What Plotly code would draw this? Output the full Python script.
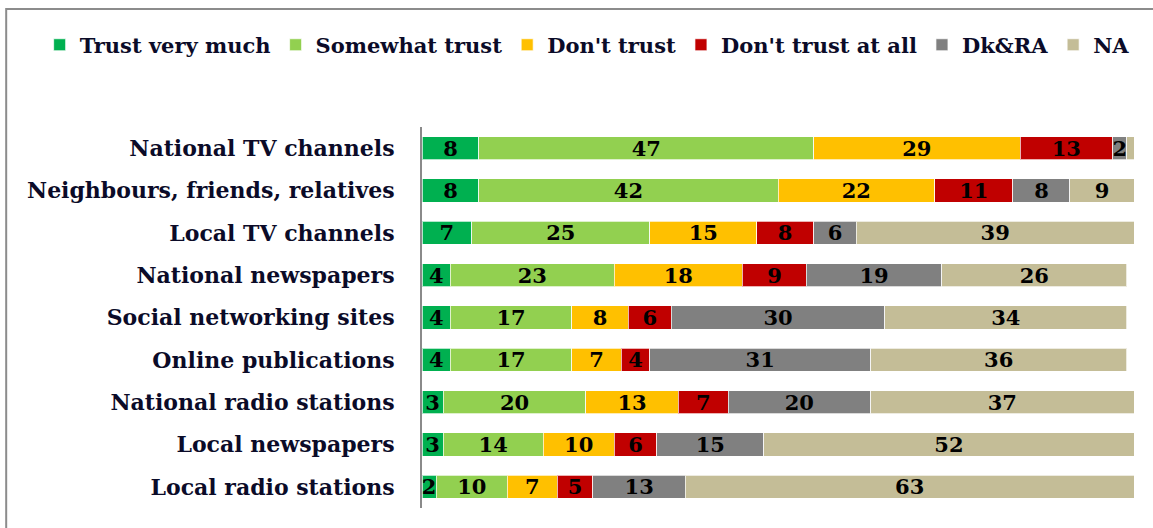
import plotly.graph_objects as go

categories = [
    "National TV channels",
    "Neighbours, friends, relatives",
    "Local TV channels",
    "National newspapers",
    "Social networking sites",
    "Online publications",
    "National radio stations",
    "Local newspapers",
    "Local radio stations",
]

series_names = ["Trust very much", "Somewhat trust", "Don't trust",
                "Don't trust at all", "Dk&RA", "NA"]

trust_very_much = [8, 8, 7, 4, 4, 4, 3, 3, 2]
somewhat_trust = [47, 42, 25, 23, 17, 17, 20, 14, 10]
dont_trust = [29, 22, 15, 18, 8, 7, 13, 10, 7]
dont_trust_at_all = [13, 11, 8, 9, 6, 4, 7, 6, 5]
dk_ra = [2, 8, 6, 19, 30, 31, 20, 15, 13]
na = [1, 9, 39, 26, 34, 36, 37, 52, 63]

colors = ["#00b050", "#92d050", "#ffc000", "#c00000", "#808080", "#c4bd97"]

FONT = "DejaVu Serif"
TEXT_COLOR = "#0b0b28"

fig = go.Figure()
for name, vals, col in zip(series_names,
                           [trust_very_much, somewhat_trust, dont_trust,
                            dont_trust_at_all, dk_ra, na], colors):
    # segments too thin to hold a number are left unlabelled
    labels = [str(v) if v >= 2 else "" for v in vals]
    fig.add_trace(go.Bar(
        name=name, y=categories, x=vals, orientation="h",
        marker=dict(color=col, line=dict(color="rgba(255,255,255,0.7)", width=1)),
        text=labels, textposition="inside", insidetextanchor="middle",
        textangle=0,
        textfont=dict(family=FONT, size=21, color="black", weight="bold"),
        hoverinfo="skip",
    ))

fig.update_layout(
    barmode="stack",
    bargap=0.45,
    width=1153, height=528,
    margin=dict(l=422, r=19, t=127, b=20),
    paper_bgcolor="white", plot_bgcolor="white",
    uniformtext=dict(minsize=21, mode="show"),
    font=dict(family=FONT, color=TEXT_COLOR, size=21),
    legend=dict(
        orientation="h", x=-0.537, xanchor="left", y=1.215, yanchor="middle",
        font=dict(family=FONT, size=21, color=TEXT_COLOR, weight="bold"),
        traceorder="normal", itemclick=False, itemdoubleclick=False,
    ),
    xaxis=dict(range=[0, 100], showgrid=False, zeroline=False,
               showticklabels=False, ticks="", fixedrange=True),
    yaxis=dict(categoryorder="array", categoryarray=categories,
               range=[8.5, -0.5], showline=True, linecolor="#8a8a8a",
               linewidth=2, ticks="", ticklabelstandoff=21,
               tickfont=dict(family=FONT, size=22, color=TEXT_COLOR,
                             weight="bold"),
               fixedrange=True),
    shapes=[dict(type="rect", xref="paper", yref="paper",
                 x0=-0.584, x1=1.2, y0=-0.3, y1=1.31,
                 line=dict(color="#8c8c8c", width=2), layer="below")],
)

fig.write_html("out.html")
